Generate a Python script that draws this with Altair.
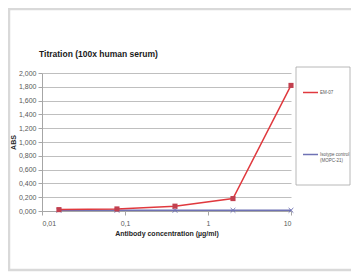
import altair as alt
import pandas as pd

# ---- data ----
conc = [0.016, 0.08, 0.4, 2, 10]
em07 = [0.02, 0.03, 0.07, 0.18, 1.82]
isotype = [0.01, 0.01, 0.01, 0.01, 0.01]
series = ["EM-07", "Isotype control (MOPC-21)"]
y_ticks = [0, 0.2, 0.4, 0.6, 0.8, 1.0, 1.2, 1.4, 1.6, 1.8, 2.0]
x_ticks = [0.01, 0.1, 1, 10]
title_text = ["Titration (100x human serum)"]

df = pd.DataFrame({
    "conc": conc + conc,
    "abs": em07 + isotype,
    "series": [series[0]] * len(conc) + [series[1]] * len(conc),
})

FONT = "Liberation Sans"
W, H = 249, 138

color_scale = alt.Scale(domain=series, range=["#e0393e", "#6f72b4"])

x_enc = alt.X(
    "conc:Q",
    scale=alt.Scale(type="log", domain=[0.01, 10], nice=False),
    axis=alt.Axis(
        values=x_ticks,
        labelExpr="replace(toString(datum.value), '.', ',')",
        grid=False,
        domainColor="#a6a6a6",
        tickColor="#a6a6a6",
        tickSize=4,
        labelPadding=4,
        labelFontSize=7,
        labelColor="#595959",
        labelFont=FONT,
        labelOverlap=False,
        title="Antibody concentration (µg/ml)",
        titleFont=FONT,
        titleFontSize=7,
        titleFontWeight="bold",
        titleColor="#262626",
        titleY=22,
        titleBaseline="middle",
    ),
)
y_enc = alt.Y(
    "abs:Q",
    scale=alt.Scale(domain=[0, 2], nice=False),
    axis=alt.Axis(
        values=y_ticks,
        labelExpr="replace(format(datum.value, '.3f'), '.', ',')",
        grid=True,
        gridColor="#bfbfbf",
        gridWidth=1,
        domainColor="#a6a6a6",
        tickColor="#a6a6a6",
        tickSize=4,
        labelPadding=2,
        labelFontSize=7,
        labelColor="#595959",
        labelFont=FONT,
        title="ABS",
        titleFont=FONT,
        titleFontSize=7,
        titleFontWeight="bold",
        titleColor="#262626",
        titleX=-29,
        titleY=H / 2,
        titleBaseline="middle",
        titleAngle=270,
    ),
)
color_enc = alt.Color(
    "series:N",
    scale=color_scale,
    legend=alt.Legend(
        title=None,
        orient="none",
        legendX=260,
        legendY=11,
        symbolType="stroke",
        symbolSize=225,
        symbolStrokeWidth=1.5,
        labelFont=FONT,
        labelFontSize=4.5,
        labelColor="#595959",
        labelOffset=1,
        labelLimit=80,
        rowPadding=50,
        padding=0,
        labelExpr="datum.label == 'Isotype control (MOPC-21)' ? ['Isotype control', '(MOPC-21)'] : datum.label",
    ),
)

base = alt.Chart(df)
deco = alt.Chart(pd.DataFrame({"t": title_text}))

frame = deco.mark_rect(fill=None, stroke="#d9d9d9", strokeWidth=2.5).encode(
    x=alt.value(-33), x2=alt.value(330), y=alt.value(-64), y2=alt.value(197)
)
legend_box = deco.mark_rect(fill=None, stroke="#a6a6a6", strokeWidth=0.8).encode(
    x=alt.value(254), x2=alt.value(308), y=alt.value(-6), y2=alt.value(112)
)
title = deco.mark_text(
    font=FONT, fontSize=8.5, fontWeight="bold", color="#1a1a1a",
    align="left", baseline="alphabetic",
).encode(text="t:N", x=alt.value(-3), y=alt.value(-16))

blue = base.transform_filter(alt.datum.series == series[1])
red = base.transform_filter(alt.datum.series == series[0])

blue_line = blue.mark_line(strokeWidth=1.5).encode(x=x_enc, y=y_enc, color=color_enc)
blue_pts = blue.mark_point(
    shape="M-1,-1L1,1M1,-1L-1,1", filled=False, size=22, strokeWidth=1, opacity=1
).encode(x=x_enc, y=y_enc, color=color_enc)
red_line = red.mark_line(strokeWidth=1.5).encode(x=x_enc, y=y_enc, color=color_enc)
red_pts = red.mark_point(
    shape="square", filled=True, size=26, opacity=1, color="#c2404f"
).encode(x=x_enc, y=y_enc)

chart = alt.layer(frame, legend_box, title, blue_line, blue_pts, red_line, red_pts).properties(
    width=W,
    height=H,
    autosize=alt.AutoSizeParams(type="none"),
    padding={"left": 34, "top": 65, "right": 60, "bottom": 61},
).configure_view(stroke=None)

chart.save("out.html", embed_options={"renderer": "svg", "actions": False})
